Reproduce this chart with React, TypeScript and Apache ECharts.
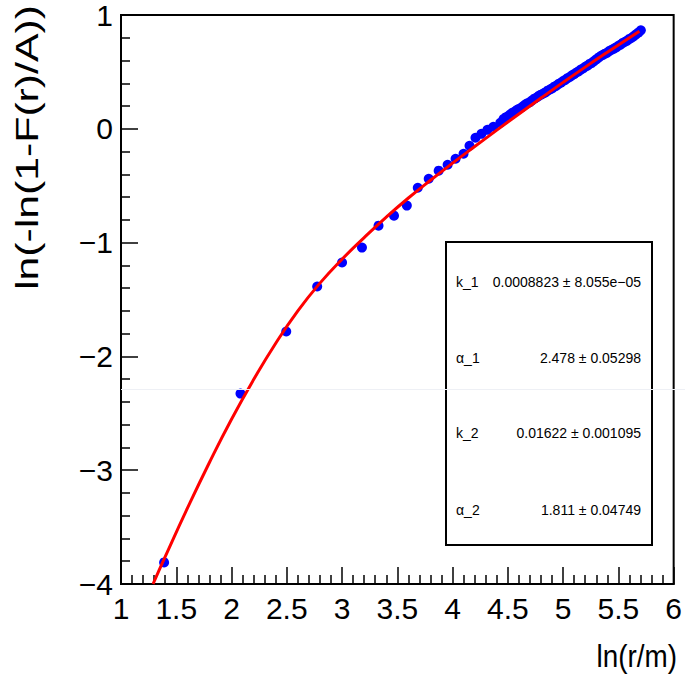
import React, { useEffect, useRef } from "react";
import * as echarts from "echarts";

// Data points: x = ln(r/m), y = ln(-ln(1-F(r)/A))
const lnR = [
  1.39, 2.081, 2.495, 2.775, 3.0, 3.18, 3.33, 3.47, 3.586, 3.685, 3.784, 3.874, 3.955, 4.027,
  4.099, 4.153, 4.207, 4.261, 4.315, 4.369, 4.432,
  4.46, 4.48, 4.5, 4.52, 4.54, 4.56, 4.58, 4.6, 4.62, 4.64, 4.66, 4.68, 4.7, 4.72, 4.74, 4.76,
  4.78, 4.8, 4.82, 4.84, 4.86, 4.88, 4.9, 4.92, 4.94, 4.96, 4.98, 5.0, 5.02, 5.04, 5.06, 5.08,
  5.1, 5.12, 5.14, 5.16, 5.18, 5.2, 5.22, 5.24, 5.26, 5.28, 5.3, 5.32, 5.34, 5.36, 5.38, 5.4,
  5.42, 5.44, 5.46, 5.48, 5.5, 5.52, 5.54, 5.56, 5.58, 5.6, 5.62, 5.64, 5.66, 5.68, 5.703,
];
const lnF = [
  -3.81, -2.327, -1.781, -1.386, -1.175, -1.044, -0.851, -0.763, -0.675, -0.518, -0.439, -0.368,
  -0.316, -0.263, -0.219, -0.149, -0.079, -0.044, -0.009, 0.018, 0.053,
  0.085, 0.1, 0.11, 0.125, 0.14, 0.15, 0.165, 0.175, 0.185, 0.2, 0.215, 0.225, 0.235, 0.25,
  0.265, 0.275, 0.29, 0.3, 0.31, 0.32, 0.335, 0.345, 0.355, 0.37, 0.38, 0.395, 0.405, 0.42,
  0.43, 0.445, 0.455, 0.47, 0.48, 0.495, 0.505, 0.52, 0.53, 0.545, 0.555, 0.57, 0.58, 0.595,
  0.61, 0.625, 0.64, 0.65, 0.66, 0.67, 0.685, 0.695, 0.705, 0.715, 0.73, 0.74, 0.755, 0.765,
  0.775, 0.79, 0.8, 0.815, 0.83, 0.845, 0.865,
];

// Fit curve
const fitX = [1.29, 1.4, 1.6, 1.8, 2.0, 2.2, 2.4, 2.6, 2.8, 3.0, 3.2, 3.4, 3.6, 3.8, 4.0, 4.2, 4.4, 4.6, 4.8, 5.0, 5.2, 5.4, 5.69];
const fitY = [-4.0, -3.76, -3.336, -2.932, -2.552, -2.204, -1.884, -1.6, -1.356, -1.146, -0.956, -0.776, -0.608, -0.452, -0.302, -0.156, -0.012, 0.13, 0.27, 0.408, 0.542, 0.672, 0.858];

const xTickValues = [1, 1.5, 2, 2.5, 3, 3.5, 4, 4.5, 5, 5.5, 6];
const xTickLabels = ["1", "1.5", "2", "2.5", "3", "3.5", "4", "4.5", "5", "5.5", "6"];
const yTickValues = [-4, -3, -2, -1, 0, 1];
const yTickLabels = ["\u22124", "\u22123", "\u22122", "\u22121", "0", "1"];

const statNames = ["k_1", "\u03b1_1", "k_2", "\u03b1_2"];
const statValues = [
  "0.0008823 \u00b1 8.055e\u221205",
  "2.478 \u00b1 0.05298",
  "0.01622 \u00b1 0.001095",
  "1.811 \u00b1 0.04749",
];

const xTitle = "ln(r/m)";
const yTitle = "ln(-ln(1-F(r)/A))";

const FONT = "'Liberation Sans', Arial, Helvetica, sans-serif";

export default function App() {
  const ref = useRef<HTMLDivElement>(null);
  useEffect(() => {
    if (!ref.current) return;
    const chart = echarts.init(ref.current, null, { renderer: "svg" });
    const points = lnR.map((x, i) => [x, lnF[i]]);
    const fit = fitX.map((x, i) => [x, fitY[i]]);
    const statRowsY = [282, 358, 433, 510];
    const statGraphics: any[] = [];
    statNames.forEach((n, i) => {
      statGraphics.push({
        type: "text",
        x: 456,
        y: statRowsY[i],
        z: 110,
        style: { text: n, fontSize: 14, fontFamily: FONT, fill: "#000", textAlign: "left", textVerticalAlign: "middle" },
      });
      statGraphics.push({
        type: "text",
        x: 641,
        y: statRowsY[i],
        z: 110,
        style: { text: statValues[i], fontSize: 14, fontFamily: FONT, fill: "#000", textAlign: "right", textVerticalAlign: "middle" },
      });
    });
    const axisCommon = {
      type: "value" as const,
      splitLine: { show: false },
      minorSplitLine: { show: false },
      axisLine: { show: true, onZero: false, lineStyle: { color: "#000", width: 2 } },
      axisTick: { show: true, inside: true, length: 17, lineStyle: { color: "#000", width: 1.5 } },
      minorTick: { show: true, splitNumber: 5, length: 9, lineStyle: { color: "#000", width: 1.5 } },
    };
    chart.setOption({
      animation: false,
      backgroundColor: "#fff",
      grid: { left: 121, right: 9, top: 14, bottom: 101, show: true, borderColor: "#000", borderWidth: 2, containLabel: false },
      xAxis: {
        ...axisCommon,
        min: 1,
        max: 6,
        interval: 0.5,
        axisLabel: {
          fontSize: 30,
          color: "#000",
          fontFamily: FONT,
          margin: 9,
          formatter: (v: number) => {
            const i = xTickValues.findIndex((t) => Math.abs(t - v) < 1e-6);
            return i >= 0 ? xTickLabels[i] : "";
          },
        },
      },
      yAxis: {
        ...axisCommon,
        min: -4,
        max: 1,
        interval: 1,
        axisLabel: {
          fontSize: 30,
          color: "#000",
          fontFamily: FONT,
          margin: 8,
          formatter: (v: number) => {
            const i = yTickValues.findIndex((t) => Math.abs(t - v) < 1e-6);
            return i >= 0 ? yTickLabels[i] : "";
          },
        },
      },
      series: [
        {
          type: "scatter",
          data: points,
          symbol: "circle",
          symbolSize: 10,
          itemStyle: { color: "#0000ff", opacity: 1 },
          z: 2,
        },
        {
          type: "line",
          data: fit,
          showSymbol: false,
          smooth: true,
          lineStyle: { color: "#ff0000", width: 3 },
          z: 3,
        },
      ],
      graphic: [
        {
          type: "rect",
          z: 100,
          shape: { x: 446, y: 242, width: 206, height: 303 },
          style: { fill: "#fff", stroke: "#000", lineWidth: 2 },
        },
        ...statGraphics,
        {
          type: "line",
          z: 120,
          shape: { x1: 121, y1: 389.5, x2: 685, y2: 389.5 },
          style: { stroke: "#eef0f5", lineWidth: 1 },
        },
        {
          type: "text",
          x: 27,
          y: 5,
          rotation: Math.PI / 2,
          scaleX: 1.38,
          z: 110,
          style: { text: yTitle, fontSize: 31, fontFamily: FONT, fill: "#000", textAlign: "right", textVerticalAlign: "middle" },
        },
        {
          type: "text",
          x: 677,
          y: 656,
          scaleX: 0.87,
          z: 110,
          style: { text: xTitle, fontSize: 32, fontFamily: FONT, fill: "#000", textAlign: "right", textVerticalAlign: "middle" },
        },
      ],
    });
    return () => chart.dispose();
  }, []);
  return <div ref={ref} style={{ position: "fixed", left: 0, top: 0, width: 685, height: 685 }} />;
}
